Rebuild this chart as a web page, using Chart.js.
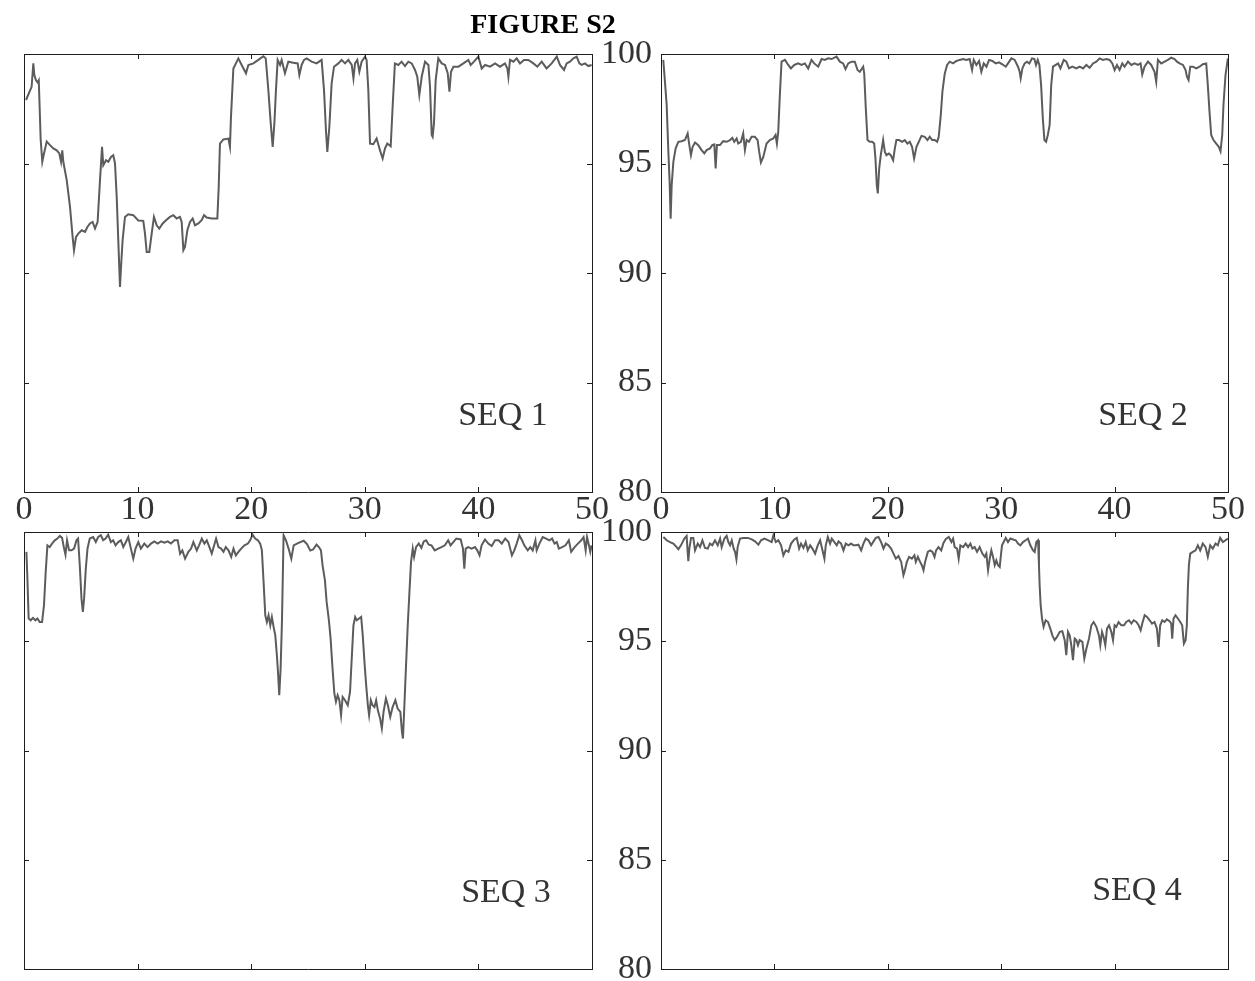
<!DOCTYPE html>
<html>
<head>
<meta charset="utf-8">
<script src="https://cdn.jsdelivr.net/npm/chart.js"></script>
<style>
  html, body { margin: 0; padding: 0; background: #fff; width: 1255px; height: 981px; overflow: hidden; }
  canvas { position: absolute; left: 0; top: 0; }
  .lbl { position: absolute; font-family: "Liberation Serif", "Times New Roman", serif; font-size: 34px;
         line-height: 1; color: #333; transform: translate(-50%, -50%); white-space: nowrap; }
  .title { font-weight: bold; font-size: 28px; color: #000; }
</style>
</head>
<body>
<canvas id="c1" width="1255" height="1040"></canvas>
<canvas id="c2" width="1255" height="1040"></canvas>
<canvas id="c3" width="1255" height="1040"></canvas>
<canvas id="c4" width="1255" height="1040"></canvas>

<div class="lbl title" style="left:543px; top:24px">FIGURE S2</div>
<div class="lbl" style="left:503px; top:414px">SEQ 1</div>
<div class="lbl" style="left:1143px; top:414px">SEQ 2</div>
<div class="lbl" style="left:506px; top:891px">SEQ 3</div>
<div class="lbl" style="left:1137px; top:889px">SEQ 4</div>

<script>
// axis ticks
const xTicks = [0, 10, 20, 30, 40, 50];
const yTicks = [80, 85, 90, 95, 100];

// SEQ 1
const seq1X = [0.18,0.67,0.82,0.91,1.06,1.2,1.3,1.47,1.61,1.76,2.0,2.29,2.58,2.88,3.11,3.26,3.37,3.46,3.76,4.05,4.28,4.4,4.58,4.78,5.08,5.37,5.58,5.81,6.04,6.25,6.48,6.69,6.87,6.98,7.22,7.42,7.66,7.86,8.01,8.16,8.3,8.45,8.54,8.68,8.89,9.18,9.62,10.06,10.5,10.65,10.8,11.03,11.24,11.44,11.68,11.91,12.21,12.5,12.85,13.15,13.44,13.73,13.88,14.03,14.17,14.38,14.61,14.85,15.05,15.35,15.64,15.85,16.08,16.52,17.02,17.14,17.25,17.55,17.99,18.13,18.22,18.43,18.87,19.16,19.54,19.75,20.19,20.63,21.07,21.28,21.51,21.71,21.89,22.04,22.18,22.33,22.54,22.68,22.97,23.27,23.71,24.09,24.24,24.44,24.65,24.88,25.32,25.76,26.2,26.41,26.58,26.7,26.88,27.08,27.29,27.67,27.96,28.26,28.55,28.85,29.0,29.14,29.34,29.52,29.72,30.02,30.16,30.31,30.46,30.75,31.04,31.34,31.57,31.78,31.98,32.28,32.45,32.65,32.95,33.24,33.54,33.83,34.13,34.42,34.62,34.8,35.01,35.3,35.6,35.74,35.89,35.97,36.09,36.24,36.47,36.77,37.06,37.3,37.45,37.59,37.8,38.24,38.68,39.12,39.32,39.61,40.0,40.29,40.59,41.03,41.47,41.9,42.34,42.55,42.64,42.78,43.08,43.37,43.66,44.01,44.4,44.84,45.19,45.57,46.0,46.45,46.9,47.18,47.54,47.77,48.06,48.36,48.65,48.89,49.09,49.38,49.68,49.97];
const seq1Y = [97.9,98.5,99.57,99.04,98.8,98.7,98.8,96.07,95.08,95.46,96.0,95.84,95.69,95.6,95.46,95.08,95.6,95.08,94.24,93.02,91.65,91.04,91.65,91.8,91.95,91.88,92.1,92.26,92.33,92.03,92.33,94.24,95.76,94.92,95.15,95.08,95.3,95.38,95.0,93.48,91.5,89.36,90.27,91.5,92.56,92.68,92.64,92.4,92.38,91.8,90.96,90.96,91.8,92.56,92.18,92.03,92.26,92.41,92.56,92.64,92.49,92.56,92.33,91.04,91.19,91.95,92.33,92.49,92.18,92.26,92.41,92.64,92.53,92.49,92.49,93.93,95.91,96.1,96.14,95.76,97.13,99.34,99.8,99.5,99.12,99.5,99.57,99.73,99.9,99.8,98.35,96.9,95.76,96.83,98.35,99.73,99.5,99.73,99.12,99.65,99.6,99.57,99.04,99.5,99.73,99.8,99.65,99.57,99.73,98.35,96.52,95.53,96.68,98.66,99.42,99.57,99.73,99.57,99.73,99.5,98.89,99.57,99.73,99.19,99.65,99.88,99.73,98.35,95.91,95.88,96.14,95.6,95.23,95.69,95.91,95.79,97.59,99.57,99.5,99.65,99.45,99.65,99.57,99.27,98.96,98.13,98.96,99.65,99.5,98.51,96.3,96.22,96.83,98.81,99.8,99.57,99.5,99.12,98.28,99.19,99.42,99.42,99.57,99.73,99.5,99.65,99.88,99.34,99.5,99.42,99.57,99.42,99.57,99.34,98.96,99.73,99.65,99.8,99.57,99.73,99.73,99.57,99.42,99.65,99.34,99.57,99.88,99.5,99.27,99.57,99.65,99.8,99.88,99.57,99.5,99.57,99.45,99.5];

// SEQ 2
const seq2X = [0.2,0.35,0.5,0.65,0.76,0.85,0.94,1.09,1.29,1.53,1.82,2.11,2.35,2.5,2.64,2.79,3.0,3.29,3.58,3.82,4.02,4.32,4.52,4.7,4.82,4.93,5.2,5.49,5.79,6.08,6.29,6.46,6.67,6.81,7.05,7.25,7.4,7.55,7.75,7.99,8.28,8.52,8.66,8.81,9.02,9.31,9.6,9.9,10.1,10.22,10.34,10.48,10.63,10.93,11.22,11.45,11.75,12.1,12.39,12.69,12.98,13.27,13.51,13.86,14.16,14.45,14.74,15.04,15.48,15.77,16.06,16.27,16.51,16.8,17.09,17.33,17.53,17.83,17.92,18.06,18.21,18.41,18.62,18.8,18.91,19.03,19.12,19.24,19.38,19.59,19.74,19.88,20.09,20.26,20.47,20.62,20.76,21.0,21.26,21.5,21.73,21.94,22.14,22.32,22.53,22.73,22.97,23.26,23.5,23.7,23.91,24.14,24.35,24.49,24.67,24.82,25.02,25.23,25.46,25.76,26.05,26.34,26.64,26.93,27.22,27.43,27.58,27.81,28.05,28.25,28.46,28.7,28.93,29.22,29.52,29.81,30.1,30.4,30.6,30.9,31.19,31.48,31.63,31.72,31.87,32.07,32.28,32.48,32.72,32.93,33.07,33.22,33.37,33.52,33.67,33.81,33.96,34.11,34.27,34.41,34.57,34.81,35.02,35.22,35.52,35.74,35.98,36.27,36.63,36.92,37.22,37.51,37.8,38.1,38.39,38.68,38.97,39.27,39.56,39.8,40.0,40.21,40.44,40.68,40.88,41.18,41.47,41.76,42.06,42.29,42.44,42.64,42.94,43.23,43.52,43.67,43.82,44.11,44.41,44.7,45.0,45.29,45.5,45.73,46.03,46.26,46.38,46.52,46.67,46.9,47.2,47.49,47.78,48.08,48.22,48.37,48.52,48.72,48.96,49.19,49.34,49.49,49.6,49.78,49.99];
const seq2Y = [99.73,98.73,97.67,95.53,94.16,92.48,94.0,95.08,95.69,95.99,96.02,96.07,96.37,95.84,95.38,95.76,95.96,95.84,95.61,95.46,95.61,95.69,95.84,95.87,94.77,95.84,95.84,96.02,95.99,96.07,96.17,95.99,96.14,95.91,95.99,96.37,95.61,96.07,95.99,96.22,96.22,96.07,95.53,95.05,95.3,95.91,96.07,96.14,96.3,95.91,96.45,98.13,99.65,99.73,99.5,99.34,99.5,99.57,99.5,99.57,99.34,99.73,99.57,99.42,99.77,99.73,99.8,99.77,99.88,99.65,99.57,99.31,99.57,99.65,99.65,99.27,99.19,99.42,99.12,97.52,96.07,95.99,95.99,95.91,95.23,94.01,93.63,94.77,95.38,96.07,95.53,95.38,95.46,95.38,95.15,95.69,96.07,96.07,95.99,96.07,95.91,95.99,95.76,95.23,95.76,95.99,96.26,96.22,96.07,96.22,96.07,96.07,95.99,96.22,97.2,98.3,99.1,99.5,99.65,99.57,99.68,99.73,99.77,99.73,99.77,99.27,99.73,99.5,99.68,99.19,99.57,99.42,99.73,99.68,99.57,99.62,99.53,99.42,99.57,99.8,99.73,99.42,99.19,98.89,99.34,99.57,99.65,99.57,99.8,99.77,99.5,99.73,99.5,98.58,97.06,96.07,95.99,96.3,96.75,98.58,99.42,99.5,99.57,99.34,99.73,99.65,99.34,99.42,99.34,99.42,99.34,99.5,99.37,99.57,99.65,99.8,99.73,99.77,99.73,99.57,99.27,99.5,99.27,99.57,99.42,99.65,99.5,99.57,99.5,99.57,99.07,99.42,99.65,99.5,99.19,98.73,99.73,99.57,99.65,99.73,99.83,99.77,99.65,99.57,99.5,99.27,98.96,98.81,99.42,99.42,99.34,99.42,99.53,99.57,98.58,97.36,96.3,96.07,95.91,95.76,95.56,96.3,97.67,99.04,99.8];

// SEQ 3
const seq3X = [0.21,0.29,0.41,0.59,0.79,1.0,1.18,1.38,1.59,1.76,1.91,2.06,2.26,2.47,2.71,2.94,3.15,3.35,3.53,3.65,3.79,3.97,4.18,4.41,4.62,4.76,4.91,5.06,5.18,5.29,5.44,5.59,5.79,6.09,6.32,6.53,6.76,6.97,7.18,7.41,7.65,7.85,8.06,8.29,8.53,8.74,8.97,9.18,9.41,9.62,9.82,10.06,10.29,10.59,10.88,11.18,11.47,11.76,12.06,12.35,12.65,12.94,13.24,13.53,13.74,13.94,14.18,14.47,14.71,14.91,15.21,15.41,15.65,15.88,16.09,16.32,16.53,16.74,16.91,17.12,17.35,17.56,17.76,18.0,18.24,18.44,18.65,18.88,19.12,19.41,19.71,19.91,20.12,20.35,20.59,20.79,20.94,21.09,21.24,21.38,21.53,21.68,21.82,21.97,22.12,22.26,22.35,22.47,22.59,22.71,22.85,23.06,23.29,23.53,23.74,24.03,24.32,24.62,24.91,25.2,25.45,25.75,25.96,26.14,26.28,26.49,26.64,26.84,26.99,27.14,27.32,27.46,27.61,27.76,27.91,28.05,28.26,28.5,28.7,28.85,29.0,29.15,29.29,29.5,29.68,29.82,29.97,30.12,30.27,30.38,30.53,30.68,30.85,31.0,31.15,31.35,31.5,31.65,31.86,32.03,32.24,32.45,32.69,32.89,33.13,33.27,33.36,33.51,33.63,33.78,33.93,34.07,34.22,34.34,34.51,34.75,34.98,35.19,35.4,35.63,35.87,36.16,36.46,36.75,37.05,37.34,37.55,37.79,38.05,38.44,38.64,38.76,38.88,39.1,39.4,39.7,39.9,40.1,40.28,40.58,40.87,41.17,41.47,41.77,42.06,42.36,42.65,42.95,43.16,43.37,43.6,43.84,44.04,44.34,44.57,44.78,45.02,45.13,45.37,45.66,45.96,46.25,46.49,46.7,46.9,47.08,47.37,47.67,47.96,48.17,48.47,48.76,49.06,49.26,49.44,49.56,49.73,49.85,49.97];
const seq3Y = [99.09,98.02,96.04,95.96,96.07,95.96,96.04,95.88,95.88,96.65,98.17,99.39,99.31,99.47,99.62,99.7,99.82,99.73,99.24,98.96,99.62,99.16,99.16,99.24,99.62,99.7,98.48,96.95,96.34,96.95,98.32,99.24,99.7,99.77,99.54,99.77,99.85,99.62,99.7,99.88,99.54,99.62,99.39,99.54,99.62,99.31,99.54,99.77,99.24,98.78,99.24,99.54,99.24,99.47,99.31,99.47,99.57,99.47,99.57,99.51,99.57,99.47,99.62,99.62,99.01,99.16,98.78,99.09,99.24,99.54,99.16,99.39,99.7,99.47,99.62,99.31,99.01,99.39,99.7,99.31,99.24,99.09,99.31,99.16,98.86,99.24,98.93,99.09,99.24,99.39,99.47,99.62,99.88,99.7,99.62,99.47,99.16,97.71,96.19,95.88,96.19,95.73,96.11,95.66,95.27,94.36,93.67,92.53,93.75,95.96,99.85,99.62,99.24,98.78,99.39,99.47,99.54,99.6,99.45,99.15,99.2,99.42,99.31,99.16,98.48,97.79,96.8,95.96,95.12,93.9,92.61,92.23,92.53,92.3,91.62,92.45,92.3,92.07,92.68,94.21,95.73,96.11,95.96,96.04,96.11,95.27,94.05,92.99,92.07,91.62,92.3,92.07,91.99,92.3,91.84,91.46,91.01,91.77,92.38,92.07,91.54,91.99,92.3,91.92,91.77,90.85,90.55,92.38,93.9,95.73,97.26,98.63,99.24,98.86,99.31,99.47,99.27,99.57,99.62,99.42,99.39,99.16,99.24,99.31,99.39,99.62,99.39,99.54,99.7,99.66,99.24,98.32,99.24,99.31,99.24,99.31,99.16,98.93,99.39,99.66,99.47,99.36,99.62,99.62,99.47,99.7,99.54,98.93,99.16,99.47,99.85,99.62,99.39,99.16,99.31,99.16,99.62,99.16,99.47,99.77,99.7,99.62,99.7,99.47,99.54,99.24,99.31,99.39,99.62,99.09,99.31,99.47,99.62,99.77,99.16,99.77,99.39,99.09,99.39];

// SEQ 4
const seq4X = [0.21,0.5,0.79,1.09,1.38,1.53,1.76,2.06,2.26,2.35,2.41,2.5,2.65,2.85,3.0,3.24,3.44,3.65,3.88,4.12,4.32,4.53,4.76,5.0,5.21,5.35,5.59,5.79,5.94,6.09,6.24,6.41,6.53,6.65,6.76,6.97,7.26,7.65,8.0,8.29,8.59,8.82,9.12,9.47,9.76,9.91,10.12,10.35,10.59,10.79,11.0,11.24,11.47,11.76,11.97,12.18,12.35,12.56,12.76,12.94,13.15,13.35,13.59,13.82,14.03,14.24,14.41,14.53,14.71,14.91,15.06,15.29,15.5,15.65,15.88,16.09,16.29,16.53,16.76,16.97,17.18,17.41,17.65,17.85,18.06,18.29,18.53,18.74,18.94,19.18,19.41,19.62,19.82,20.06,20.29,20.5,20.71,20.94,21.18,21.38,21.47,21.68,21.88,22.12,22.35,22.47,22.65,22.85,23.0,23.15,23.29,23.53,23.74,23.94,24.12,24.26,24.47,24.71,24.91,25.12,25.38,25.61,25.76,25.9,26.11,26.25,26.4,26.64,26.87,27.08,27.28,27.46,27.66,27.87,28.1,28.34,28.55,28.69,28.84,28.99,29.13,29.28,29.43,29.57,29.72,29.87,29.96,30.07,30.22,30.4,30.6,30.81,31.04,31.28,31.48,31.69,31.92,32.16,32.36,32.57,32.81,32.95,33.1,33.25,33.33,33.39,33.48,33.6,33.74,33.92,34.13,34.33,34.51,34.71,34.92,35.16,35.39,35.6,35.74,35.89,36.04,36.18,36.33,36.48,36.63,36.77,36.92,37.16,37.33,37.51,37.74,37.95,38.15,38.39,38.62,38.74,38.89,39.03,39.18,39.33,39.51,39.71,39.86,40.0,40.15,40.35,40.59,40.83,41.03,41.27,41.48,41.68,41.92,42.12,42.3,42.44,42.65,42.86,43.09,43.3,43.52,43.73,43.88,44.02,44.2,44.41,44.61,44.85,44.99,45.08,45.2,45.37,45.58,45.79,45.96,46.11,46.26,46.37,46.46,46.55,46.67,46.9,47.14,47.34,47.55,47.78,48.02,48.22,48.43,48.66,48.9,49.1,49.31,49.55,49.78,49.99];
const seq4Y = [99.77,99.62,99.54,99.47,99.31,99.21,99.39,99.7,99.82,99.09,98.66,99.24,99.73,99.73,99.16,99.47,99.31,99.62,99.27,99.24,99.47,99.39,99.62,99.39,99.7,99.31,99.7,99.82,99.54,99.39,99.62,99.24,99.09,98.75,99.31,99.7,99.73,99.73,99.66,99.57,99.42,99.62,99.7,99.62,99.54,99.85,99.54,99.62,99.39,98.93,99.16,99.09,99.47,99.66,99.73,99.24,99.47,99.27,99.54,99.16,99.39,99.24,99.01,99.39,99.62,99.16,98.78,99.39,99.77,99.47,99.7,99.54,99.39,99.57,99.47,99.16,99.47,99.39,99.47,99.39,99.39,99.42,99.16,99.47,99.7,99.62,99.39,99.57,99.73,99.77,99.54,99.24,99.47,99.39,99.24,99.01,98.78,98.9,98.63,98.02,98.17,98.63,98.86,98.78,98.93,98.63,98.86,98.63,98.48,98.25,98.63,99.09,99.16,99.09,98.86,99.16,99.31,99.16,99.5,99.68,99.77,99.54,99.7,99.31,99.24,98.78,99.39,99.31,99.47,99.31,99.47,99.24,99.31,99.09,99.31,99.01,98.86,99.01,98.25,98.78,99.16,98.86,98.48,98.7,98.48,98.4,98.86,99.39,99.54,99.73,99.54,99.7,99.66,99.62,99.47,99.39,99.54,99.62,99.7,99.39,99.16,99.09,99.54,99.62,98.48,97.56,96.65,96.04,95.66,95.96,95.88,95.58,95.27,95.05,95.2,95.43,95.46,95.05,94.36,95.43,95.27,94.82,94.13,95.12,95.05,94.82,95.05,94.97,94.21,94.66,95.12,95.73,95.88,95.66,95.27,94.82,95.43,95.2,94.82,95.58,95.73,95.43,95.05,95.73,95.66,95.88,95.73,95.73,95.88,95.96,95.81,95.96,95.88,95.73,95.5,95.81,96.19,96.11,95.96,95.81,95.88,95.58,94.74,95.73,95.96,95.88,96.0,95.92,95.81,95.12,96.04,96.19,96.04,95.88,95.73,94.89,95.05,95.73,97.41,98.48,99.01,99.09,99.16,99.39,99.16,99.47,99.31,98.86,99.39,99.24,99.47,99.39,99.73,99.54,99.62,99.7];

const tickFont = { family: "'Liberation Serif', 'Times New Roman', serif", size: 34, lineHeight: 1 };
const frame = { display: true, color: '#1e1e1e', width: 1 };

// short tick marks pointing into the plot on all four sides
const innerTicks = {
  id: 'innerTicks',
  afterDraw(chart) {
    const { ctx, chartArea: a, scales: { x, y } } = chart;
    ctx.save();
    ctx.strokeStyle = '#1e1e1e';
    ctx.lineWidth = 1;
    ctx.beginPath();
    x.ticks.forEach(t => {
      if (t.value <= x.min || t.value >= x.max) return;
      const p = Math.round(x.getPixelForValue(t.value)) + 0.5;
      ctx.moveTo(p, a.top); ctx.lineTo(p, a.top + 5);
      ctx.moveTo(p, a.bottom); ctx.lineTo(p, a.bottom - 5);
    });
    y.ticks.forEach(t => {
      if (t.value <= y.min || t.value >= y.max) return;
      const p = Math.round(y.getPixelForValue(t.value)) + 0.5;
      ctx.moveTo(a.left, p); ctx.lineTo(a.left + 5, p);
      ctx.moveTo(a.right, p); ctx.lineTo(a.right - 5, p);
    });
    ctx.stroke();
    ctx.restore();
  }
};

function makeChart(id, xs, ys, showX, showY, pad) {
  const pts = xs.map((v, i) => ({ x: v, y: ys[i] }));
  const xBase = {
    type: 'linear', min: xTicks[0], max: xTicks[xTicks.length - 1],
    grid: { display: false, drawTicks: false }, border: frame
  };
  const yBase = {
    type: 'linear', min: yTicks[0], max: yTicks[yTicks.length - 1],
    grid: { display: false, drawTicks: false }, border: frame
  };
  return new Chart(document.getElementById(id), {
    type: 'line',
    data: {
      datasets: [{
        data: pts,
        borderColor: '#5c5c5c',
        borderWidth: 2,
        pointRadius: 0,
        fill: false,
        tension: 0
      }]
    },
    plugins: [innerTicks],
    options: {
      responsive: false,
      animation: false,
      devicePixelRatio: 1,
      layout: { padding: pad },
      plugins: { legend: { display: false }, tooltip: { enabled: false } },
      scales: {
        x: { ...xBase, position: 'bottom',
             ticks: { display: showX, stepSize: xTicks[1] - xTicks[0], font: tickFont, color: '#333', padding: 1, maxRotation: 0 },
             afterFit: s => { s.height = showX ? 44 : 0; } },
        xTop: { ...xBase, position: 'top', ticks: { display: false },
             afterFit: s => { s.height = 0; } },
        y: { ...yBase, position: 'left',
             ticks: { display: showY, stepSize: yTicks[1] - yTicks[0], font: tickFont, color: '#333', padding: 9 },
             afterFit: s => { s.width = showY ? 66 : 0; } },
        yRight: { ...yBase, position: 'right', ticks: { display: false },
             afterFit: s => { s.width = 0; } }
      }
    }
  });
}

makeChart('c1', seq1X, seq1Y, true, false, { left: 24, right: 663, top: 54, bottom: 1040 - 492 - 44 });
makeChart('c2', seq2X, seq2Y, true, true, { left: 595, right: 27, top: 54, bottom: 1040 - 492 - 44 });
makeChart('c3', seq3X, seq3Y, false, false, { left: 24, right: 663, top: 532, bottom: 1040 - 969 });
makeChart('c4', seq4X, seq4Y, false, true, { left: 595, right: 27, top: 532, bottom: 1040 - 969 });
</script>
</body>
</html>
